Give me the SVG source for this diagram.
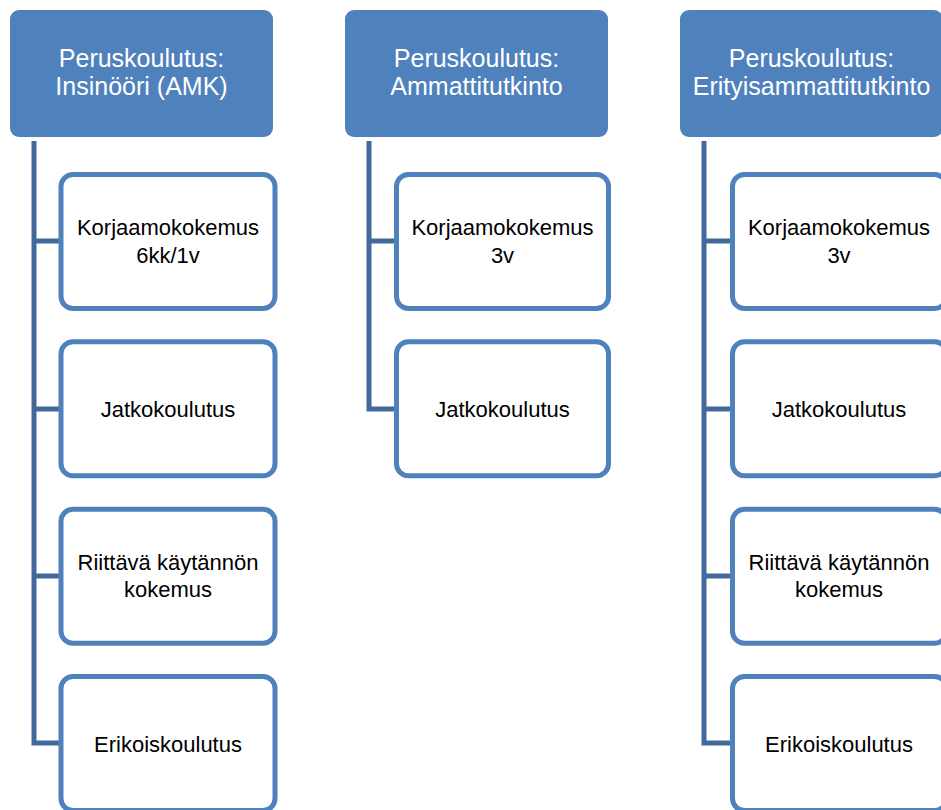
<svg xmlns="http://www.w3.org/2000/svg" width="941" height="810" viewBox="0 0 941 810">
<style>
.hdr{fill:#4f81bd;}
.hdr-t{font-family:"Liberation Sans",Arial,sans-serif;font-size:25px;fill:#ffffff;text-anchor:middle;}
.box{fill:#ffffff;stroke:#4f81bd;stroke-width:5;}
.box-t{font-family:"Liberation Sans",Arial,sans-serif;font-size:22px;fill:#000000;text-anchor:middle;}
.conn{fill:none;stroke:#41699c;stroke-width:5;stroke-linejoin:miter;}
</style>
<rect width="941" height="810" fill="#ffffff"/>
<g id="connectors">
<path class="conn" d="M34 141 V743 H61 M34 241 H61 M34 409 H61 M34 576 H61"/>
<path class="conn" d="M369 141 V409 H396 M369 241 H396"/>
<path class="conn" d="M704 141 V743 H732 M704 241 H732 M704 409 H732 M704 576 H732"/>
</g>
<g id="h1"><rect class="hdr" x="10" y="10" width="263" height="127" rx="9"/><text class="hdr-t" x="141.5" y="67">Peruskoulutus:</text><text class="hdr-t" x="141.5" y="95">Insinööri (AMK)</text></g>
<g id="h2"><rect class="hdr" x="345" y="10" width="263" height="127" rx="9"/><text class="hdr-t" x="476.5" y="67">Peruskoulutus:</text><text class="hdr-t" x="476.5" y="95">Ammattitutkinto</text></g>
<g id="h3"><rect class="hdr" x="680" y="10" width="263" height="127" rx="9"/><text class="hdr-t" x="811.5" y="67">Peruskoulutus:</text><text class="hdr-t" x="811.5" y="95">Erityisammattitutkinto</text></g>
<g id="c1a"><rect class="box" x="61" y="174.5" width="214" height="134" rx="12"/><text class="box-t" x="168" y="235">Korjaamokokemus</text><text class="box-t" x="168" y="263">6kk/1v</text></g>
<g id="c1b"><rect class="box" x="61" y="341.8" width="214" height="134" rx="12"/><text class="box-t" x="168" y="417">Jatkokoulutus</text></g>
<g id="c1c"><rect class="box" x="61" y="509.2" width="214" height="134" rx="12"/><text class="box-t" x="168" y="570">Riittävä käytännön</text><text class="box-t" x="168" y="597">kokemus</text></g>
<g id="c1d"><rect class="box" x="61" y="676.5" width="214" height="134" rx="12"/><text class="box-t" x="168" y="752">Erikoiskoulutus</text></g>
<g id="c2a"><rect class="box" x="396.5" y="174.5" width="212" height="134" rx="12"/><text class="box-t" x="502.5" y="235">Korjaamokokemus</text><text class="box-t" x="502.5" y="263">3v</text></g>
<g id="c2b"><rect class="box" x="396.5" y="341.8" width="212" height="134" rx="12"/><text class="box-t" x="502.5" y="417">Jatkokoulutus</text></g>
<g id="c3a"><rect class="box" x="732.5" y="174.5" width="214" height="134" rx="12"/><text class="box-t" x="839" y="235">Korjaamokokemus</text><text class="box-t" x="839" y="263">3v</text></g>
<g id="c3b"><rect class="box" x="732.5" y="341.8" width="214" height="134" rx="12"/><text class="box-t" x="839" y="417">Jatkokoulutus</text></g>
<g id="c3c"><rect class="box" x="732.5" y="509.2" width="214" height="134" rx="12"/><text class="box-t" x="839" y="570">Riittävä käytännön</text><text class="box-t" x="839" y="597">kokemus</text></g>
<g id="c3d"><rect class="box" x="732.5" y="676.5" width="214" height="134" rx="12"/><text class="box-t" x="839" y="752">Erikoiskoulutus</text></g>
</svg>
